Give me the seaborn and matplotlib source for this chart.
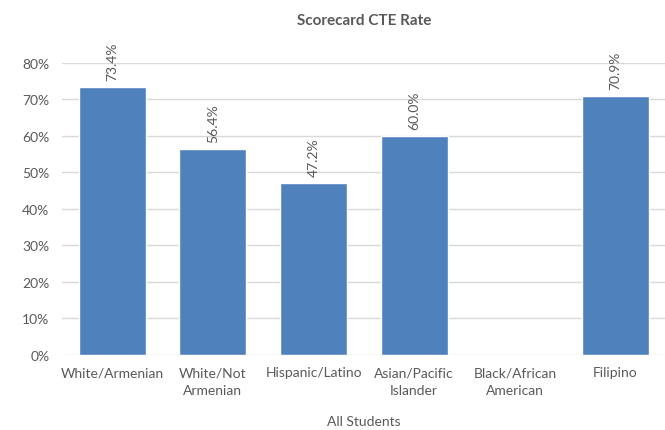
import matplotlib
matplotlib.use("Agg")
import matplotlib.pyplot as plt
import seaborn as sns
import numpy as np
import pandas as pd

categories = ["White/Armenian", "White/Not\nArmenian", "Hispanic/Latino",
              "Asian/Pacific\nIslander", "Black/African\nAmerican", "Filipino"]
values = [73.4, 56.4, 47.2, 60.0, np.nan, 70.9]
yticks = [0, 10, 20, 30, 40, 50, 60, 70, 80]
title = "Scorecard CTE Rate"
xlabel = "All Students"

sns.set_theme(style="white")
plt.rcParams['font.family'] = ['Lato', 'DejaVu Sans']
txt = "#595959"

df = pd.DataFrame({"cat": categories, "val": values})
fig = plt.figure(figsize=(6.65, 4.31), dpi=100)
ax = fig.add_axes([0.0932, 0.174, 0.908, 0.678])
sns.barplot(data=df, x="cat", y="val", color="#4F81BD", saturation=1,
            width=0.665, ax=ax, order=categories)
ax.set_ylim(0, 80)
ax.set_xlim(-0.5, len(categories) - 0.5)
ax.set_yticks(yticks)
ax.set_yticklabels([f"{t}%" for t in yticks])
for s in ax.spines.values():
    s.set_visible(False)
ax.grid(axis="y", color="#D9D9D9", linewidth=1)
ax.set_axisbelow(True)
ax.tick_params(axis="y", length=0, pad=9, labelsize=10, labelcolor=txt)
ax.tick_params(axis="x", length=0, pad=8, labelsize=10, labelcolor=txt)
for lab in ax.get_xticklabels():
    lab.set_linespacing(1.55)
ax.set_xlabel(xlabel, fontsize=10, color=txt, labelpad=14)
ax.set_ylabel("")
ax.set_title(title, fontsize=11, fontweight="bold", color=txt, pad=28)

for i, v in enumerate(values):
    if np.isnan(v):
        continue
    ax.annotate(f"{v:.1f}%", xy=(i, v), xytext=(0, 5), textcoords="offset points",
                rotation=90, ha="center", va="bottom", fontsize=10, color=txt,
                annotation_clip=False)

fig.savefig("out.png", dpi=100)
